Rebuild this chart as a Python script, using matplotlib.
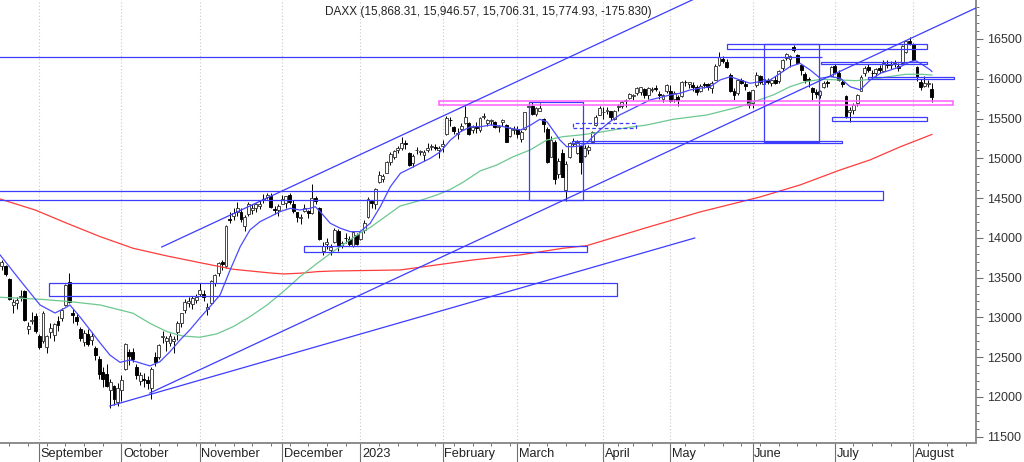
import numpy as np
import pandas as pd
import matplotlib
matplotlib.use("Agg")
import matplotlib.pyplot as plt
from matplotlib.patches import Rectangle
from matplotlib.ticker import MultipleLocator
from matplotlib.transforms import blended_transform_factory

plt.rcParams['font.family'] = ['Liberation Sans', 'DejaVu Sans']

# Xetra trading calendar of the chart
start_date = "2022-08-18"
end_date = "2023-08-08"
holidays = ["2022-12-26", "2023-04-07", "2023-04-10", "2023-05-01"]

title = "DAXX (15,868.31, 15,946.57, 15,706.31, 15,774.93, -175.830)"
month_names = ["September", "October", "November", "December", "2023", "February",
               "March", "April", "May", "June", "July", "August"]

# daily OHLC, one row per month
opens = [
    13650, 13640, 13480, 13150, 13180, 13250, 13330, 12850, 12950, 13020,
    12760, 12700, 12630, 12810, 12780, 12950, 12990, 13160, 13440, 13050, 13010, 12860, 12690, 12790, 12710, 12620, 12480, 12310, 12290, 12090, 12140, 11930,
    12090, 12350, 12560, 12560, 12380, 12200, 12220, 12210, 12110, 12500, 12500, 12750, 12700, 12680, 12700, 12810, 12930, 13090, 13180, 13170, 13220,
    13300, 13300, 13100, 13180, 13430, 13560, 13690, 13640, 14240, 14270, 14320, 14330, 14150, 14300, 14350, 14380, 14400, 14470, 14510, 14520, 14360, 14350,
    14420, 14440, 14540, 14420, 14320, 14250, 14340, 14340, 14310, 14500, 14380, 13840, 13920, 13850, 13950, 14080, 13900, 14000, 13990, 13900, 14030,
    13980, 14100, 14260, 14460, 14430, 14700, 14740, 14820, 14950, 15010, 15100, 15130, 15190, 15070, 14940, 15100, 15080, 15040, 15110, 15140, 15140, 15110,
    15150, 15300, 15480, 15390, 15300, 15370, 15440, 15440, 15350, 15400, 15360, 15520, 15440, 15470, 15450, 15390, 15450, 15420, 15280, 15350,
    15370, 15240, 15370, 15640, 15660, 15560, 15600, 15500, 15370, 15010, 15200, 14800, 15070, 14600, 15010, 15180, 15070, 15150, 15030, 15110, 15200, 15420, 15550,
    15580, 15590, 15590, 15500, 15640, 15660, 15720, 15760, 15780, 15820, 15830, 15870, 15790, 15860, 15880, 15810, 15750, 15850,
    15850, 15750, 15770, 15780, 15960, 15930, 15920, 15900, 15850, 15930, 15930, 15880, 15990, 16170, 16250, 16210, 16050, 15850, 15820, 15980, 15940, 15830,
    15690, 15920, 16030, 15930, 15980, 15950, 15990, 15970, 16130, 16260, 16250, 16400, 16300, 16170, 16060, 15990, 15880, 15830, 15800, 15900, 15960, 16040,
    16160, 16070, 15960, 15780, 15580, 15610, 15700, 15850, 16070, 16150, 16070, 16070, 16140, 16100, 16190, 16170, 16200, 16160, 16200, 16340, 16470,
    16440, 16150, 15960, 15910, 15940, 15868.31,
]
highs = [
    13720, 13660, 13500, 13230, 13260, 13350, 13350, 12940, 13070, 13060,
    12790, 13080, 12780, 12930, 12930, 13020, 13120, 13420, 13560, 13110, 13060, 12880, 12840, 12850, 12820, 12640, 12510, 12370, 12420, 12230, 12150, 12170,
    12280, 12680, 12600, 12610, 12420, 12310, 12300, 12260, 12370, 12570, 12660, 12830, 12760, 12800, 12760, 12950, 13060, 13230, 13250, 13270, 13300,
    13430, 13350, 13180, 13470, 13550, 13700, 13720, 14160, 14330, 14380, 14450, 14370, 14290, 14450, 14420, 14440, 14480, 14550, 14560, 14560, 14400, 14430,
    14540, 14530, 14560, 14480, 14330, 14300, 14420, 14350, 14680, 14520, 14390, 13950, 14000, 13920, 14120, 14110, 13960, 14060, 14020, 14080, 14060,
    14090, 14220, 14510, 14480, 14630, 14840, 14800, 14960, 15080, 15100, 15150, 15270, 15230, 15080, 15060, 15140, 15110, 15100, 15190, 15180, 15180, 15150,
    15230, 15530, 15520, 15400, 15380, 15440, 15660, 15450, 15420, 15450, 15520, 15570, 15490, 15500, 15470, 15420, 15490, 15430, 15390, 15400,
    15400, 15360, 15580, 15700, 15710, 15650, 15700, 15510, 15390, 15280, 15230, 15000, 15120, 14960, 15200, 15250, 15230, 15160, 15170, 15170, 15340, 15540, 15660,
    15640, 15650, 15600, 15610, 15680, 15720, 15740, 15820, 15810, 15890, 15900, 15880, 15890, 15900, 15920, 15850, 15810, 15930,
    15920, 15840, 15800, 15970, 15990, 15960, 15960, 15920, 15930, 15960, 15950, 15970, 16180, 16330, 16280, 16250, 16070, 15880, 16000, 16010, 15970, 15840,
    15860, 16080, 16050, 16000, 16010, 16000, 16040, 16110, 16250, 16320, 16300, 16430, 16310, 16180, 16080, 16020, 15890, 15870, 15860, 15970, 15990, 16160,
    16180, 16110, 16000, 15790, 15640, 15700, 15810, 16050, 16160, 16190, 16110, 16140, 16170, 16230, 16230, 16220, 16230, 16200, 16420, 16480, 16530,
    16450, 16160, 16000, 16030, 15980, 15946.57,
]
lows = [
    13600, 13520, 13220, 13050, 13110, 13200, 12950, 12790, 12920, 12800,
    12600, 12680, 12550, 12740, 12700, 12830, 12960, 13140, 13180, 12930, 12900, 12700, 12640, 12640, 12650, 12470, 12230, 12130, 12130, 11862, 11900, 11890,
    11950, 12340, 12400, 12440, 12230, 12150, 12130, 12100, 11980, 12390, 12480, 12680, 12580, 12640, 12550, 12720, 12880, 13060, 13130, 13100, 13180,
    13270, 13200, 13030, 13170, 13400, 13520, 13600, 13620, 14190, 14230, 14270, 14200, 14080, 14280, 14300, 14330, 14360, 14440, 14490, 14370, 14300, 14280,
    14420, 14370, 14430, 14310, 14200, 14180, 14330, 14250, 14300, 14420, 13970, 13790, 13860, 13790, 13940, 13840, 13870, 13940, 13900, 13880, 13910,
    13970, 14060, 14250, 14380, 14360, 14690, 14700, 14810, 14910, 14990, 15070, 15100, 15120, 14900, 14890, 15060, 15040, 14960, 15080, 15100, 15110, 15000,
    15080, 15290, 15400, 15300, 15240, 15340, 15430, 15290, 15320, 15320, 15330, 15490, 15400, 15420, 15380, 15330, 15410, 15200, 15270, 15310,
    15250, 15200, 15360, 15610, 15540, 15530, 15590, 15330, 14940, 15010, 14680, 14750, 14760, 14458, 15000, 15160, 15060, 14800, 15020, 15060, 15190, 15410, 15540,
    15500, 15560, 15480, 15480, 15590, 15630, 15650, 15740, 15730, 15800, 15790, 15760, 15740, 15830, 15850, 15750, 15710, 15820,
    15710, 15710, 15660, 15770, 15910, 15880, 15850, 15800, 15830, 15880, 15860, 15820, 15980, 16160, 16200, 16130, 15830, 15730, 15800, 15930, 15860, 15630,
    15630, 15900, 15930, 15900, 15930, 15910, 15940, 15950, 16100, 16240, 16150, 16330, 16190, 16050, 15950, 15900, 15730, 15760, 15760, 15880, 15900, 16030,
    16060, 15970, 15900, 15510, 15460, 15560, 15660, 15840, 16040, 16080, 16010, 16040, 16070, 16080, 16140, 16120, 16150, 16100, 16180, 16320, 16420,
    16230, 15970, 15860, 15890, 15900, 15706.31,
]
closes = [
    13697, 13544, 13230, 13194, 13220, 13271, 12971, 12892, 12961, 12834,
    12630, 13050, 12761, 12871, 12915, 12904, 13088, 13402, 13189, 13028, 12956, 12741, 12803, 12671, 12767, 12531, 12284, 12227, 12139, 12183, 11976, 12114,
    12209, 12671, 12517, 12471, 12273, 12272, 12219, 12172, 12356, 12438, 12649, 12765, 12741, 12767, 12731, 12931, 13053, 13195, 13211, 13243, 13253,
    13338, 13256, 13130, 13459, 13533, 13688, 13666, 14146, 14224, 14313, 14379, 14234, 14267, 14431, 14380, 14422, 14428, 14484, 14541, 14383, 14356, 14397,
    14490, 14529, 14448, 14343, 14261, 14264, 14370, 14306, 14497, 14460, 13987, 13893, 13943, 13884, 14098, 13914, 13941, 13995, 13926, 14072, 13924,
    14069, 14181, 14490, 14436, 14610, 14792, 14774, 14948, 15058, 15087, 15134, 15187, 15181, 14920, 15033, 15103, 15093, 15082, 15132, 15150, 15126, 15128,
    15181, 15509, 15476, 15346, 15321, 15412, 15524, 15308, 15397, 15380, 15507, 15534, 15482, 15478, 15398, 15400, 15476, 15210, 15381, 15365,
    15305, 15328, 15578, 15654, 15559, 15632, 15633, 15428, 14959, 15233, 14735, 14967, 14768, 14933, 15195, 15216, 15210, 14957, 15128, 15142, 15329, 15522, 15629,
    15581, 15603, 15520, 15598, 15655, 15703, 15729, 15808, 15790, 15883, 15896, 15795, 15882, 15864, 15872, 15796, 15800, 15922,
    15726, 15815, 15734, 15961, 15953, 15955, 15897, 15834, 15914, 15918, 15897, 15952, 16163, 16275, 16223, 16152, 15842, 15793, 15983, 15952, 15909, 15664,
    15853, 16051, 15964, 15992, 15960, 15990, 15949, 16097, 16230, 16311, 16290, 16358, 16201, 16111, 15989, 15988, 15830, 15813, 15846, 15949, 15946, 16148,
    16081, 15987, 15939, 15529, 15603, 15673, 15791, 16024, 16141, 16105, 16068, 16125, 16108, 16204, 16177, 16191, 16211, 16131, 16406, 16469, 16447,
    16240, 16020, 15893, 15952, 15951, 15774.93,
]

# moving averages (trading-day position, value)
fast_ma_pos = [-0.5, 4.8, 10.2, 14.2, 16.9, 18.2, 20.9, 23.6, 26.3, 28.9, 31.6, 34.3, 37.0, 39.6,
               42.3, 45.0, 47.7, 50.3, 53.0, 55.7, 58.4, 61.1, 63.8, 66.4, 69.1, 71.8, 74.5,
               77.2, 79.8, 82.5, 83.9, 85.2, 87.9, 90.6, 93.3, 95.9, 98.6, 101.3, 104.0, 106.7,
               109.4, 112.0, 114.7, 117.4, 120.1, 122.8, 125.5, 128.2, 130.8, 133.5, 136.2,
               138.9, 141.6, 144.0, 145.9, 147.5, 149.4, 151.2, 152.8, 154.8, 156.6, 158.2,
               160.1, 162.8, 165.4, 168.1, 170.8, 173.5, 178.9, 181.5, 184.2, 186.9, 189.6,
               192.3, 195.0, 197.6, 200.3, 203.0, 205.7, 208.4, 211.0, 213.7, 216.4, 219.1,
               221.8, 224.5, 227.1, 229.8, 232.5, 235.2, 237.9, 240.6, 243.2, 244.6, 245.9,
               248.6, 249.0]
fast_ma_val = [13785, 13470, 13156, 13055, 13118, 13156, 13005, 12842, 12678, 12527, 12435, 12465, 12427, 12390,
               12443, 12569, 12716, 12842, 12993, 13135, 13282, 13596, 13889, 14099, 14203, 14266, 14330,
               14371, 14350, 14371, 14392, 14329, 14183, 14120, 14078, 14078, 14183, 14392, 14643, 14812,
               14875, 14937, 15000, 15083, 15230, 15335, 15397, 15397, 15419, 15406, 15377,
               15356, 15419, 15490, 15460, 15356, 15230, 15146, 15146, 15155, 15189, 15272,
               15356, 15460, 15545, 15607, 15670, 15733, 15796, 15817, 15859, 15880, 15900,
               15985, 16026, 15985, 15943, 15964, 15985, 16069, 16152, 16194, 16110, 16006,
               16026, 16006, 15900, 15859, 15985, 16069, 16110, 16152, 16215, 16228, 16194,
               16110, 16090]
mid_ma_pos = [-0.5, 10.2, 18.2, 26.3, 35.1, 39.6, 44.2, 48.4, 53.0, 57.5, 61.9, 66.4, 71.0, 75.3,
              79.8, 84.4, 88.6, 95.9, 98.6, 103.9, 106.6, 112.0, 116.5, 120.1, 123.5, 128.0,
              132.5, 136.9, 141.4, 145.9, 150.2, 154.8, 159.3, 163.6, 168.1, 172.7, 179.7,
              188.8, 197.6, 206.5, 211.0, 215.2, 219.5, 224.1, 228.6, 232.9, 237.5, 242.0,
              246.3, 249.0]
mid_ma_val = [13253, 13228, 13198, 13156, 13052, 12926, 12820, 12766, 12750, 12792, 12883, 13009, 13156, 13323,
              13512, 13680, 13826, 14060, 14130, 14309, 14400, 14470, 14540, 14610, 14700, 14840,
              14916, 15020, 15104, 15230, 15272, 15293, 15322, 15356, 15390, 15419, 15490,
              15545, 15649, 15796, 15900, 15964, 15993, 15985, 15976, 15993, 16026, 16056,
              16056, 16047]
slow_ma_pos = [-0.5, 8.9, 17.4, 26.3, 35.1, 44.2, 53.0, 61.9, 71.0, 75.3, 79.8, 84.4, 88.6, 106.6,
               126.1, 138.7, 150.2, 156.6, 173.5, 186.9, 203.0, 213.7, 224.4, 232.4, 240.4, 249.0]
slow_ma_val = [14488, 14350, 14183, 14015, 13869, 13772, 13688, 13605, 13562, 13546, 13555, 13575, 13583, 13596,
               13722, 13785, 13869, 13902, 14141, 14325, 14514, 14665, 14853, 14979, 15142, 15300]

# drawn zones: (from day, to day, low, high)
zones = [(-1.5, 235.9, 14476, 14589), (12.6, 164.7, 13269, 13436), (80.9, 156.6, 13822, 13898),
         (141.2, 155.6, 14472, 15712), (152.6, 224.8, 15189, 15222), (194.2, 247.7, 16378, 16433),
         (204.0, 218.8, 15209, 16433), (219.3, 247.6, 16189, 16215), (232.0, 254.9, 15993, 16018),
         (222.2, 247.7, 15473, 15523)]
dashed_zone = (153.0, 169.8, 15385, 15440)
pink_zone = (116.9, 254.7, 15670, 15714)
# trend lines: (day, value) -> (day, value)
trend_lines = [((39.6, 12049), (260.8, 16890)), ((28.9, 11886), (185.5, 13998)),
               ((42.8, 13885), (185.5, 17006))]
resistance = (-1.5, 219.6, 16274)

# ------------------------------------------------------------------
dates = pd.bdate_range(start_date, end_date)
dates = dates[~dates.isin(pd.to_datetime(holidays))]
idx = np.arange(len(dates))
o, h, l, c = (np.array(v, dtype=float) for v in (opens, highs, lows, closes))

fig = plt.figure(figsize=(10.24, 4.62), dpi=100)
ax = fig.add_axes([0, 18.7 / 462, 976 / 1024, 443.3 / 462])
xmin, xmax = -0.52, 260.8
ax.set_xlim(xmin, xmax)
ax.set_ylim(11417, 16990)

# month separators
month_start = idx[1:][dates.month[1:] != dates.month[:-1]]
for pos in month_start:
    ax.axvline(pos, color="#c8c8c8", lw=0.8, ls=(0, (1, 2)), zorder=0)

# candles
ax.vlines(idx, l, h, color="black", lw=0.7, zorder=2)
up = c >= o
body_lo = np.minimum(o, c)
body_h = np.maximum(np.abs(c - o), 6)
ax.bar(idx[up], body_h[up], bottom=body_lo[up], width=0.78, color="white",
       edgecolor="#3a3a3a", lw=0.65, zorder=3)
ax.bar(idx[~up], body_h[~up], bottom=body_lo[~up], width=0.78, color="black",
       edgecolor="black", lw=0.65, zorder=3)

# moving averages
ax.plot(slow_ma_pos, slow_ma_val, color="#ff3c3c", lw=0.9, zorder=4)
ax.plot(mid_ma_pos, mid_ma_val, color="#6cc890", lw=0.9, zorder=4)
ax.plot(fast_ma_pos, fast_ma_val, color="#4a4aff", lw=0.9, zorder=4)

# drawings
blue = "#3c3cff"
for x0, x1, lo, hi in zones:
    ax.add_patch(Rectangle((x0, lo), x1 - x0, hi - lo, fill=False, edgecolor=blue, lw=0.9, zorder=5))
x0, x1, lo, hi = dashed_zone
ax.add_patch(Rectangle((x0, lo), x1 - x0, hi - lo, fill=False, edgecolor=blue, lw=0.9,
                       ls=(0, (3, 2)), zorder=5))
x0, x1, lo, hi = pink_zone
ax.add_patch(Rectangle((x0, lo), x1 - x0, hi - lo, fill=False, edgecolor="#ff5cff", lw=1.1, zorder=5))
for (xa, ya), (xb, yb) in trend_lines:
    ax.plot([xa, xb], [ya, yb], color=blue, lw=0.9, zorder=5)
ax.hlines(resistance[2], resistance[0], resistance[1], color=blue, lw=0.9, zorder=5)

# axes styling
for side in ("top", "left"):
    ax.spines[side].set_visible(False)
for side in ("right", "bottom"):
    ax.spines[side].set_color("#8c8c8c")
    ax.spines[side].set_linewidth(1.4)

ax.yaxis.tick_right()
ax.yaxis.set_major_locator(MultipleLocator(500))
ax.yaxis.set_minor_locator(MultipleLocator(100))
ax.tick_params(axis="y", which="major", length=5, width=0.8, color="#707070",
               labelsize=9, labelcolor="#333333", pad=3)
ax.tick_params(axis="y", which="minor", length=2.5, width=0.7, color="#707070")

week_start = list(idx[1:][dates.dayofweek[1:] < dates.dayofweek[:-1]])
nxt = week_start[-1] + 5
while nxt < xmax:
    week_start.append(nxt)
    nxt += 5
prev = week_start[0] - 5
while prev > xmin:
    week_start.insert(0, prev)
    prev -= 5
ax.set_xticks(month_start)
ax.set_xticks(week_start, minor=True)
ax.set_xticklabels([])
ax.tick_params(axis="x", which="major", length=14, width=0.8, color="#707070")
ax.tick_params(axis="x", which="minor", length=2.5, width=0.7, color="#707070")

trans = blended_transform_factory(ax.transData, ax.transAxes)
for pos, name in zip(month_start, month_names):
    ax.text(pos + 0.4, -0.024, name, transform=trans, ha="left", va="center",
            fontsize=9.2, color="#222222")

ax.text(0.5, 1 - 12 / 443.3, title, transform=ax.transAxes, ha="center", va="center",
        fontsize=8.5, color="#222222")

fig.savefig("out.png", dpi=100)
